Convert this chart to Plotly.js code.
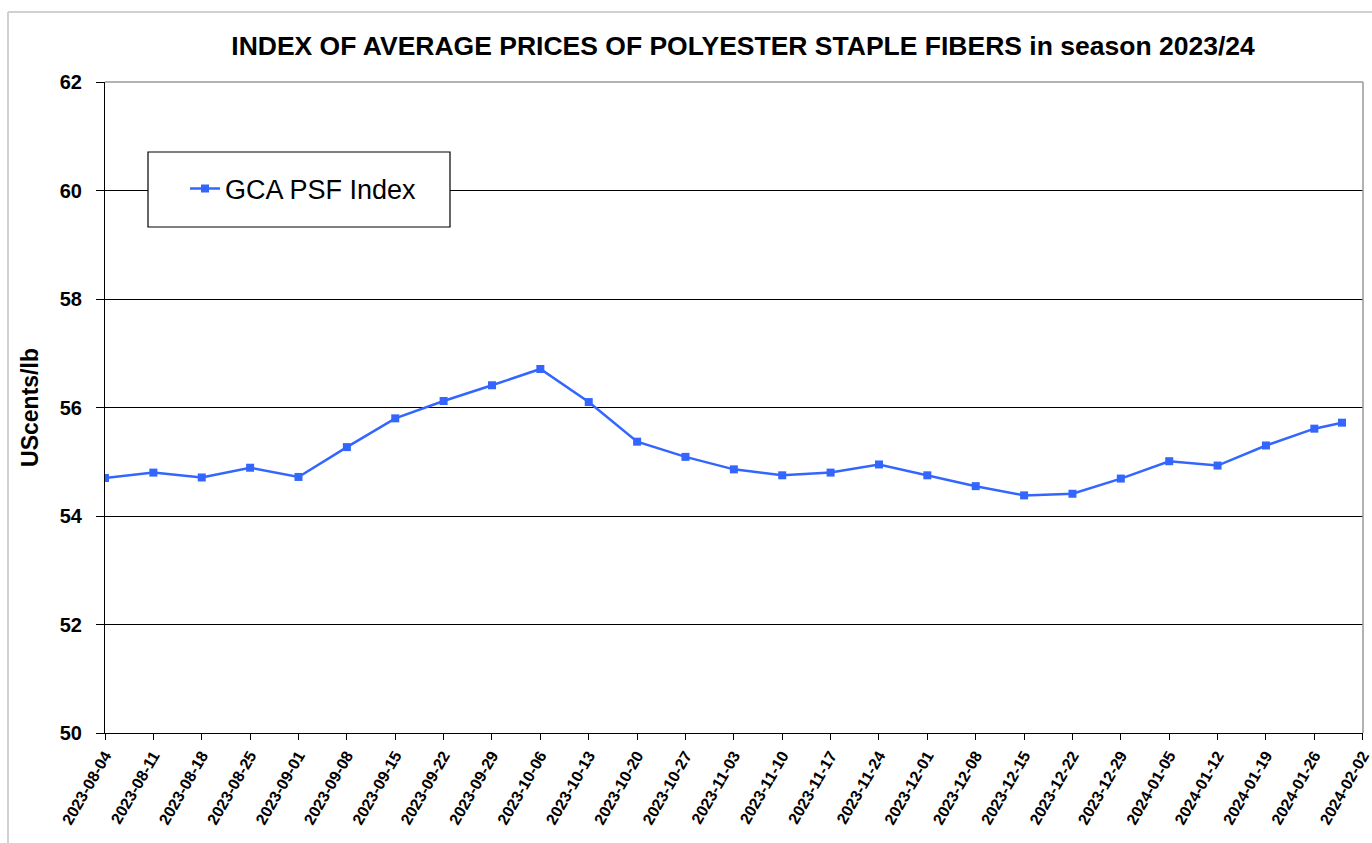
<!DOCTYPE html>
<html>
<head>
<meta charset="utf-8">
<script src="https://cdn.plot.ly/plotly-3.0.1.min.js"></script>
<style>html,body{margin:0;padding:0;background:#fff;}#chart{width:1372px;height:843px;}</style>
</head>
<body>
<div id="chart"></div>
<script>
const dates = ["2023-08-04","2023-08-11","2023-08-18","2023-08-25","2023-09-01","2023-09-08","2023-09-15","2023-09-22","2023-09-29","2023-10-06","2023-10-13","2023-10-20","2023-10-27","2023-11-03","2023-11-10","2023-11-17","2023-11-24","2023-12-01","2023-12-08","2023-12-15","2023-12-22","2023-12-29","2024-01-05","2024-01-12","2024-01-19","2024-01-26","2024-01-30"];
const psfIndex = [54.70,54.80,54.71,54.89,54.72,55.27,55.80,56.12,56.41,56.71,56.10,55.37,55.09,54.86,54.75,54.80,54.95,54.75,54.55,54.38,54.41,54.69,55.01,54.93,55.30,55.61,55.72];
const tickDates = ["2023-08-04","2023-08-11","2023-08-18","2023-08-25","2023-09-01","2023-09-08","2023-09-15","2023-09-22","2023-09-29","2023-10-06","2023-10-13","2023-10-20","2023-10-27","2023-11-03","2023-11-10","2023-11-17","2023-11-24","2023-12-01","2023-12-08","2023-12-15","2023-12-22","2023-12-29","2024-01-05","2024-01-12","2024-01-19","2024-01-26","2024-02-02"];
const seriesName = "GCA PSF Index";
const chartTitle = "INDEX OF AVERAGE PRICES OF POLYESTER STAPLE FIBERS in season 2023/24";
const yTitle = "UScents/lb";

const FONT = "Liberation Sans, Arial, sans-serif";
const BLUE = "#3366FF";

const trace = {
  x: dates, y: psfIndex, name: seriesName, type: "scatter", mode: "lines+markers",
  line: {color: BLUE, width: 2.5},
  marker: {symbol: "square", size: 8, color: BLUE},
  showlegend: true
};

const L = 105, R = 1363, T = 82, B = 733, W = 1372, H = 843;
const pw = R - L, ph = B - T;
const px = v => (v - L) / pw;
const py = v => (B - v) / ph;

const layout = {
  width: W, height: H,
  margin: {l: L, r: W - R, t: T, b: H - B, pad: 0},
  paper_bgcolor: "#fff", plot_bgcolor: "#fff",
  font: {family: FONT, color: "#000"},
  title: {
    text: chartTitle, x: 743 / W, xanchor: "center", y: 1 - 46 / H, yanchor: "middle",
    font: {family: FONT, size: 26.5, weight: "bold", color: "#000"}
  },
  xaxis: {
    type: "date",
    range: [tickDates[0], tickDates[tickDates.length - 1] + " 01:00"],
    tickvals: tickDates, ticktext: tickDates,
    tickangle: -60,
    ticklabeloverflow: "allow",
    tickfont: {family: FONT, size: 16, weight: "bold", color: "#000"},
    ticks: "outside", ticklen: 6, tickcolor: "#000", tickwidth: 1,
    showgrid: false, zeroline: false,
    showline: true, linecolor: "#000", linewidth: 1
  },
  yaxis: {
    range: [50, 62], dtick: 2, tick0: 50,
    tickfont: {family: FONT, size: 20, weight: "bold", color: "#000"},
    ticks: "outside", ticklen: 8, tickcolor: "#000", tickwidth: 1,
    ticklabelstandoff: 10,
    showgrid: true, gridcolor: "#000", gridwidth: 1,
    zeroline: false, showline: true, linecolor: "#000", linewidth: 1,
    title: {text: yTitle, font: {family: FONT, size: 23, weight: "bold", color: "#000"}, standoff: 14}
  },
  legend: {
    x: px(185), xanchor: "left", y: py(189), yanchor: "middle",
    bgcolor: "rgba(0,0,0,0)", borderwidth: 0,
    font: {family: FONT, size: 27, color: "#000"}
  },
  shapes: [
    {type: "line", xref: "paper", yref: "paper", x0: 1, x1: 1, y0: 0, y1: 1, line: {color: "#999", width: 1.5}},
    {type: "line", xref: "paper", yref: "paper", x0: 0, x1: 1, y0: 1, y1: 1, line: {color: "#999", width: 1.5}},
    {type: "line", xref: "paper", yref: "paper", x0: px(8), x1: px(8), y0: py(12), y1: py(H + 5), line: {color: "#d0d0d0", width: 2}},
    {type: "line", xref: "paper", yref: "paper", x0: px(8), x1: px(W + 5), y0: py(12), y1: py(12), line: {color: "#d0d0d0", width: 2}},
    {type: "rect", xref: "paper", yref: "paper", layer: "above",
     x0: px(148), x1: px(450), y0: py(227), y1: py(152),
     fillcolor: "#fff", line: {color: "#000", width: 1.2}}
  ]
};

Plotly.newPlot("chart", [trace], layout, {displayModeBar: false, staticPlot: true});
</script>
</body>
</html>
